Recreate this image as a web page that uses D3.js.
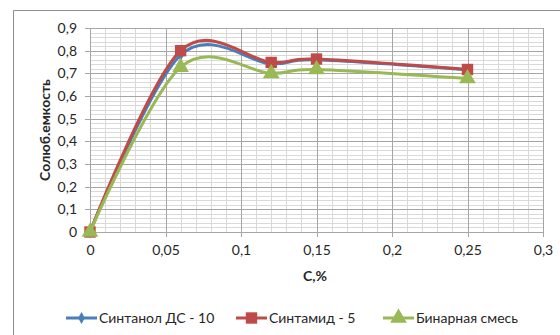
<!DOCTYPE html>
<html><head><meta charset="utf-8">
<script src="https://cdn.jsdelivr.net/npm/d3@7"></script>
<style>body{margin:0;background:#fff}svg{display:block}text{font-family:Lato,"Open Sans",sans-serif}</style>
</head><body><svg id="c" width="560" height="335"></svg>
<script>
const xValues = [0, 0.06, 0.12, 0.15, 0.25];
const sintanol = [0, 0.78, 0.742, 0.76, 0.716];
const sintamid = [0, 0.80, 0.748, 0.763, 0.717];
const binary = [0, 0.727, 0.700, 0.717, 0.677];
const seriesNames = ["Синтанол ДС - 10", "Синтамид - 5", "Бинарная смесь"];
const xTicks = [0, 0.05, 0.1, 0.15, 0.2, 0.25, 0.3];
const yTicks = [0, 0.1, 0.2, 0.3, 0.4, 0.5, 0.6, 0.7, 0.8, 0.9];
const xTitle = "C,%";
const yTitle = "Солюб.емкость";

const svg = d3.select("#c");
const x = d3.scaleLinear().domain([0, 0.3]).range([90, 543]);
const y = d3.scaleLinear().domain([0, 0.9]).range([232, 28]);
const fmt = v => String(+v.toFixed(2)).replace(".", ",");

// chart border
svg.append("path").attr("d", "M13.5,335 V10.5 H560").attr("fill","none").attr("stroke","#8c8c8c").attr("stroke-width",1);

const g = svg.append("g");
// minor grid
const minorX = d3.range(0, 0.3001, 0.01).map(v=>+v.toFixed(2));
const minorY = d3.range(0, 0.9001, 0.02).map(v=>+v.toFixed(2));
g.selectAll(".mx").data(minorX).join("line")
  .attr("x1", d=>Math.round(x(d))+0.5).attr("x2", d=>Math.round(x(d))+0.5)
  .attr("y1", y(0)).attr("y2", y(0.9)).attr("stroke","#d9d9d9");
g.selectAll(".my").data(minorY).join("line")
  .attr("y1", d=>Math.round(y(d))+0.5).attr("y2", d=>Math.round(y(d))+0.5)
  .attr("x1", x(0)).attr("x2", x(0.3)).attr("stroke","#d9d9d9");
// major grid
g.selectAll(".Mx").data(xTicks).join("line")
  .attr("x1", d=>Math.round(x(d))+0.5).attr("x2", d=>Math.round(x(d))+0.5)
  .attr("y1", y(0)+5).attr("y2", y(0.9)).attr("stroke","#a6a6a6");
g.selectAll(".My").data(yTicks).join("line")
  .attr("y1", d=>Math.round(y(d))+0.5).attr("y2", d=>Math.round(y(d))+0.5)
  .attr("x1", x(0)-5).attr("x2", x(0.3)).attr("stroke","#a6a6a6");

// axes labels via d3 axes
const xAxis = svg.append("g").attr("transform", `translate(0,${y(0)})`)
  .call(d3.axisBottom(x).tickValues(xTicks).tickFormat(fmt).tickSize(0).tickPadding(13));
const yAxis = svg.append("g").attr("transform", `translate(${x(0)},0)`)
  .call(d3.axisLeft(y).tickValues(yTicks).tickFormat(fmt).tickSize(0).tickPadding(13));
[xAxis, yAxis].forEach(a => {
  a.select(".domain").remove();
  a.selectAll("text").attr("font-size", 14).attr("fill", "#262626").style("font-family","Lato");
});

svg.append("text").attr("x", 315).attr("y", 281).attr("text-anchor","middle")
  .attr("font-size", 14).attr("font-weight","bold").attr("fill","#262626").text(xTitle);
svg.append("text").attr("transform","translate(50,130) rotate(-90)").attr("text-anchor","middle")
  .attr("font-size", 14).attr("font-weight","bold").attr("fill","#262626").text(yTitle);

const colors = ["#4a7ebb", "#be4b48", "#98b954"];
const data = [sintanol, sintamid, binary];
const line = d3.line().x((d,i)=>x(xValues[i])).y(d=>y(d)).curve(d3.curveCardinal.tension(0));

const sym = [d3.symbolDiamond, d3.symbolSquare, d3.symbolTriangle];
const symSize = [40, 130, 120];

data.forEach((s, k) => {
  svg.append("path").datum(s).attr("d", line).attr("fill","none")
    .attr("stroke", colors[k]).attr("stroke-width", 3).attr("stroke-linejoin","round");
  svg.selectAll(".m"+k).data(s).join("path")
    .attr("transform", (d,i)=>`translate(${x(xValues[i])},${y(d)})`)
    .attr("d", d3.symbol().type(sym[k]).size(symSize[k])).attr("fill", colors[k]);
});

// legend
const legX = [66, 236, 383];
const lg = svg.append("g");
seriesNames.forEach((n, k) => {
  const ly = 318;
  lg.append("line").attr("x1", legX[k]).attr("x2", legX[k]+31).attr("y1", ly).attr("y2", ly)
    .attr("stroke", colors[k]).attr("stroke-width", 3);
  lg.append("path").attr("transform", `translate(${legX[k]+15.5},${ly})`)
    .attr("d", d3.symbol().type(sym[k]).size(symSize[k])).attr("fill", colors[k]);
  lg.append("text").attr("x", legX[k]+33).attr("y", ly+5).attr("font-size", 14)
    .attr("fill","#262626").text(n);
});
</script></body></html>
